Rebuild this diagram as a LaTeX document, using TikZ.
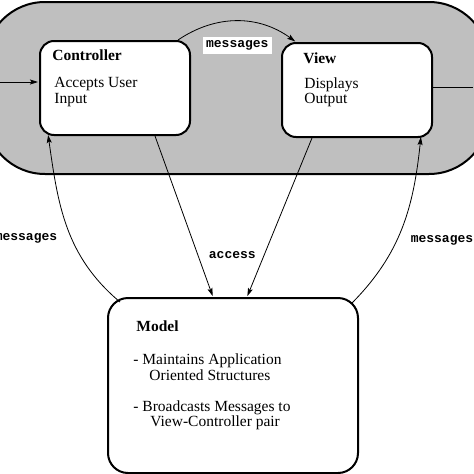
\documentclass[tikz,border=0pt]{standalone}
\usepackage{fontspec}
\setmainfont{Liberation Serif}
\setmonofont{Liberation Mono}
\usetikzlibrary{arrows, arrows.meta, positioning, calc}

\begin{document}
\begin{tikzpicture}[
        x = 1pt, y = 1pt,
        > = {Stealth[length = 8pt, width = 5pt, inset = 1.5pt]}, % arrow head style
        shorten > = 1pt, % don't touch arrow head to node
        line width = 0.8pt
    ]

    \tikzstyle{box}=[
        draw = black,
        line width = 2pt,
        fill = white,
        rounded corners = 14pt,
        minimum width = 150pt,
        minimum height = 94pt
    ]
    \tikzstyle{title}=[inner sep = 0pt, anchor = north west, font = \fontsize{15.5}{15.5}\selectfont\bfseries]
    \tikzstyle{body}=[inner sep = 0pt, anchor = north west, align = left, font = \fontsize{15.5}{15.5}\selectfont]
    \tikzstyle{msg}=[inner sep = 2pt, font = \fontsize{13}{13}\selectfont\ttfamily\bfseries]

    \useasboundingbox (0,0) rectangle (474,-474);
    \clip (0,0) rectangle (474,-474);

    % view-controller pair
    \draw[fill = black!25, line width = 2pt, rounded corners = 60pt] (-15,-2) rectangle (489,-174);

    \node[box] (C) at (115,-88) {};
    \node[box] (V) at (357,-90) {};
    \node[box, minimum width = 250pt, minimum height = 175pt, rounded corners = 20pt] (M) at (233,-385.5) {};

    \node[title] (CT) [below right = 9.5pt and 13pt of C.north west] {Controller};
    \node[body] (CB) [below right = 37pt and 15pt of C.north west] {Accepts User\\Input};
    \node[title] (VT) [below right = 10.5pt and 22pt of V.north west] {View};
    \node[body] (VB) [below right = 35pt and 23pt of V.north west] {Displays\\Output};
    \node[title] (MT) [below right = 23.5pt and 29pt of M.north west] {Model};
    \node[body] (MB) [below right = 56.5pt and 26pt of M.north west]
        {- Maintains Application\\\hspace*{16pt}Oriented Structures\\[15.5pt]
         - Broadcasts Messages to\\\hspace*{17pt}View-Controller pair};

    \coordinate (in) at (0,-82);
    \coordinate (out) at (474,-87);
    \draw[->] (in) -- (in -| C.west);
    \draw (V.east |- out) -- (out);

    \draw[->] ($(C.north east)+(-13,0)$) to[bend left = 35]
        node[midway, below = 15pt, msg, fill = white, inner xsep = 3pt, inner ysep = 4pt] {messages}
        ($(V.north west)+(15,0)$);

    \draw[->] ($(C.south)+(40,0)$) -- ($(M.north)+(-20,0)$)
        node[pos = 0.75, right = 8pt, msg, yshift = 2pt] {access};
    \draw[->] ($(V.south)+(-45,0)$) -- ($(M.north)+(14,0)$);

    \draw[->] ($(M.north west)+(13,-5)$) to[out = 140, in = -82]
        ($(C.south west)+(9,2)$);
    \node[msg] at (26,-238) {messages};
    \draw[->] ($(M.north east)+(-8,-7)$) to[out = 45, in = -96]
        ($(V.south east)+(-12,2)$);
    \node[msg] at (442,-240) {messages};
\end{tikzpicture}
\end{document}
